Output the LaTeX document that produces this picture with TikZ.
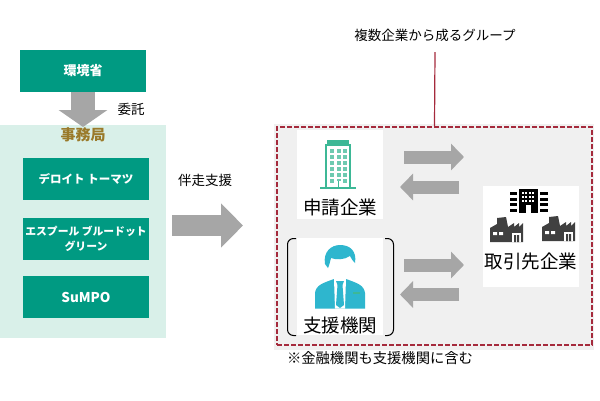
\documentclass[tikz,border=0pt]{standalone}
\usepackage{fontspec}
\setmainfont{Noto Sans CJK JP}
\usetikzlibrary{arrows.meta}
\definecolor{Teal}{HTML}{009A82}
\definecolor{PalePanel}{HTML}{D9F0E9}
\definecolor{GrayPanel}{HTML}{F0F0F0}
\definecolor{ArrowGray}{HTML}{A6A6A6}
\definecolor{DashRed}{HTML}{A52A3C}
\definecolor{Gold}{HTML}{9A7A2A}
\definecolor{Tower}{HTML}{3DB896}
\definecolor{Cyan}{HTML}{2EB6CE}
\definecolor{Soot}{HTML}{404040}
\newcommand{\fs}[1]{\fontsize{#1}{#1}\selectfont}
\tikzset{
	tealbox/.style={fill=Teal,text=white,font=\fs{11.5}\bfseries,align=center,inner sep=0pt,minimum width=126pt,minimum height=42pt},
	card/.style={fill=white,inner sep=0pt},
	blockarrow/.style={draw=ArrowGray,line width=#1,-{Triangle[length=13pt,width=26pt]}},
	blockarrow/.default=13pt,
	caption/.style={font=\fs{18.5},inner sep=0pt},
	remark/.style={font=\fs{13.5},inner sep=0pt},
	factory/.pic={
		\fill [Soot] (0,25) -- (0,11) -- (7,7) -- (7,1) -- (16,0) -- (18,10) -- (24,6) -- (24,10) -- (29,6) -- (29,10) -- (33,6) -- (33,25) -- cycle;
		\fill [white] (3,15) rectangle (7,18) (9,15) rectangle (13,18);
		\fill [white] (22,16) rectangle (31,25);
		\fill [Soot] (24,18) rectangle (26,25) (27,18) rectangle (29,25);
	}
}
\begin{document}
\begin{tikzpicture}[x=1pt,y=-1pt]
\useasboundingbox (0,0) rectangle (600,400);
% Left column
\node (office) [fill=PalePanel,minimum width=166pt,minimum height=213pt,inner sep=0pt] at (83,231.5) {};
\node (env) [tealbox,font=\fs{13}\bfseries] at (83,71) {環境省};
\node (deloitte) [tealbox] at (86,179) {デロイト トーマツ};
\node (espoir) [tealbox,font=\fontsize{10.8}{15}\selectfont\bfseries] at (86,238.5) {エスプール ブルードット\\グリーン};
\node (sumpo) [tealbox,font=\fs{13.5}\bfseries] at (86,297) {SuMPO};
% Entrusting arrow
\coordinate (envend) at (83,127);
\draw [draw=ArrowGray,line width=24pt,-{Triangle[length=17pt,width=48pt]}] (env.south) -- (envend);
\node (office label) [font=\fs{15}\bfseries,text=Gold,inner sep=0pt] at (83,135) {事務局};
\node (entrust) [remark] at (131,109) {委託};
% Support arrow
\coordinate (supportstart) at (172,225.5);
\coordinate (supportend) at (243,225.5);
\draw [draw=ArrowGray,line width=21pt,-{Triangle[length=22pt,width=43pt]}] (supportstart) -- (supportend);
\node (support) [remark] at (205,180) {伴走支援};
% Group
\node (panel) [fill=GrayPanel,minimum width=320pt,minimum height=226pt,inner sep=0pt] at (434,237) {};
\node (group) [draw=DashRed,line width=1.6pt,dash pattern=on 5pt off 2pt,minimum width=315pt,minimum height=218pt,inner sep=0pt] at (434.5,236) {};
\node (group label) [remark] at (435,35) {複数企業から成るグループ};
\draw [DashRed,line width=1.2pt] (group label.south |- 0,52) -- (group.north);
\node (note) [font=\fs{14.3},inner sep=0pt] at (380,358) {※金融機関も支援機関に含む};
% Applicant
\node (applicant) [card,minimum width=86pt,minimum height=89pt] at (340,174.5) {};
\node (applicant text) [caption] at (340,207) {申請企業};
\fill [Tower] (327,140) rectangle (349,145);
\fill [Tower] (325,144) rectangle (351,188);
\fill [white] (327,146) rectangle (349,187);
\fill [Tower] (320,187) rectangle (356,189);
\foreach \col in {0,1,2}
	\foreach \row in {0,...,5}
		\fill [Tower!75] ({330+\col*6.5},{149+\row*6}) rectangle ++(4,4);
\fill [white] (335.5,181) rectangle (340.5,187);
\fill [Tower] (337.5,181) rectangle (338.5,187);
% Adviser
\node (adviser) [card,minimum width=86pt,minimum height=97pt] at (340,286.5) {};
\node (adviser text) [caption] at (340,325) {支援機関};
\draw [black,line width=1pt,rounded corners=6pt] (296,238.5) -- (287.5,238.5) -- (287.5,335.5) -- (296,335.5);
\draw [black,line width=1pt,rounded corners=6pt] (385,238.5) -- (393.5,238.5) -- (393.5,335.5) -- (385,335.5);
\fill [Cyan] (315,308.5) -- (315,293) .. controls (316,285) and (323,283) .. (334,279) -- (346,279) .. controls (357,283) and (364,285) .. (365,293) -- (365,308.5) -- cycle;
\fill [white] (334,279) -- (346,279) -- (345,308.5) -- (335,308.5) -- cycle;
\fill [Cyan] (336,281) -- (344,281) -- (342.5,285) -- (344,305) -- (340,308) -- (336,305) -- (337.5,285) -- cycle;
\fill [Tower] (353,292) rectangle (360,294);
\fill [white] (340,267) ellipse [x radius=12,y radius=14];
\fill [Cyan] (325,264) .. controls (323,252) and (331,245) .. (340,245) .. controls (350,245) and (357,251) .. (355,263) .. controls (352,260) and (351,258) .. (350,256) .. controls (344,260) and (336,260) .. (331,258) .. controls (330,262) and (329,266) .. (328,268) -- cycle;
% Business partner
\node (partner) [card,minimum width=96pt,minimum height=101pt] at (531,236.5) {};
\node (partner text) [caption] at (531,261) {取引先企業};
\fill [black] (519,189) rectangle (538,213);
\foreach \col in {0,1,2,3}
	\foreach \row in {0,1,2}
		\fill [white] ({521.5+\col*3.5},{191.5+\row*4}) rectangle ++(2,2.5);
\fill [white] (526,205) rectangle (531,213);
\foreach \row in {0,1,2,3}
{
	\fill [black] (510,{192+\row*5.5}) rectangle (517,{195+\row*5.5});
	\fill [black] (540,{192+\row*5.5}) rectangle (548,{195+\row*5.5});
}
\pic at (490,217) {factory};
\pic at (542,216) {factory};
% Exchange arrows
\coordinate (a1) at (404,157);
\coordinate (a2) at (464,157);
\coordinate (b1) at (459,187);
\coordinate (b2) at (400,187);
\coordinate (c1) at (404,265);
\coordinate (c2) at (464,265);
\coordinate (d1) at (459,294.5);
\coordinate (d2) at (400,294.5);
\draw [blockarrow] (a1) -- (a2);
\draw [blockarrow] (b1) -- (b2);
\draw [blockarrow] (c1) -- (c2);
\draw [blockarrow] (d1) -- (d2);
\end{tikzpicture}
\end{document}
